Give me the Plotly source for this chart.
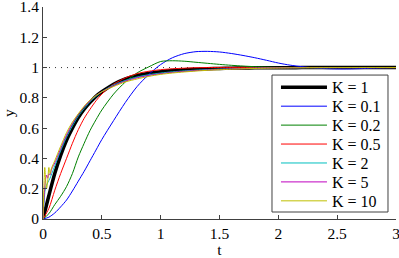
import plotly.graph_objects as go

# ---- data ----
T = [0, 0.05, 0.1, 0.15, 0.2, 0.25, 0.3, 0.35, 0.4, 0.45, 0.5, 0.6, 0.7, 0.8, 0.9,
     1.0, 1.1, 1.2, 1.3, 1.4, 1.5, 1.6, 1.7, 1.8, 1.9, 2.0, 2.1, 2.2, 2.3, 2.4,
     2.5, 2.6, 2.7, 2.8, 2.9, 3.0]

y_k1 = [0, 0.155, 0.30, 0.42, 0.52, 0.60, 0.67, 0.725, 0.77, 0.81, 0.84, 0.89, 0.925,
        0.948, 0.963, 0.973, 0.98, 0.985, 0.989, 0.992, 0.994, 0.996, 0.997, 0.998,
        0.998, 0.999, 0.999, 1, 1, 1, 1, 1, 1, 1, 1, 1]

y_k01 = [0, 0.012, 0.04, 0.08, 0.125, 0.185, 0.25, 0.315, 0.385, 0.455, 0.525, 0.65, 0.77,
         0.875, 0.955, 1.02, 1.065, 1.092, 1.105, 1.107, 1.103, 1.093, 1.08, 1.065,
         1.048, 1.03, 1.016, 1.006, 0.998, 0.993, 0.991, 0.991, 0.993, 0.996, 0.998, 1.0]

y_k02 = [0, 0.035, 0.095, 0.15, 0.214, 0.30, 0.41, 0.50, 0.585, 0.655, 0.72, 0.825,
         0.905, 0.965, 1.005, 1.04, 1.045, 1.042, 1.035, 1.028, 1.021, 1.015, 1.01,
         1.006, 1.003, 1.001, 1.0, 0.999, 0.999, 0.999, 1.0, 1.0, 1.0, 1.0, 1.0, 1.0]

y_k05 = [0, 0.07, 0.19, 0.30, 0.40, 0.50, 0.59, 0.665, 0.725, 0.78, 0.825, 0.89, 0.932,
         0.96, 0.976, 0.986, 0.992, 0.996, 0.999, 1.0, 1.001, 1.001, 1.001, 1.0, 1.0,
         1.0, 1.0, 1.0, 1.0, 1.0, 1.0, 1.0, 1.0, 1.0, 1.0, 1.0]

t_k2 = [0, 0.01, 0.02, 0.04, 0.06, 0.08, 0.1, 0.15, 0.2, 0.25, 0.3, 0.35, 0.4, 0.45,
        0.5, 0.6, 0.7, 0.8, 0.9, 1.0, 1.1, 1.2, 1.3, 1.4, 1.5, 1.6, 1.7, 1.8, 1.9,
        2.0, 2.2, 2.5, 3.0]
y_k2 = [0, 0.12, 0.2, 0.24, 0.27, 0.31, 0.35, 0.45, 0.54, 0.615, 0.68, 0.73, 0.775,
        0.81, 0.84, 0.885, 0.915, 0.938, 0.953, 0.964, 0.972, 0.978, 0.983, 0.987,
        0.99, 0.992, 0.994, 0.996, 0.997, 0.998, 0.999, 1.0, 1.0]

t_k5 = [0, 0.01, 0.02, 0.03, 0.04, 0.05, 0.06, 0.07, 0.08, 0.1, 0.15, 0.2, 0.25, 0.3,
        0.35, 0.4, 0.45, 0.5, 0.6, 0.7, 0.8, 0.9, 1.0, 1.1, 1.2, 1.3, 1.4, 1.5, 1.6,
        1.7, 1.8, 1.9, 2.0, 2.2, 2.5, 3.0]
y_k5 = [0, 0.15, 0.25, 0.29, 0.27, 0.3, 0.29, 0.32, 0.34, 0.37, 0.465, 0.555, 0.63,
        0.69, 0.74, 0.78, 0.815, 0.84, 0.88, 0.91, 0.932, 0.948, 0.959, 0.968, 0.975,
        0.98, 0.984, 0.988, 0.991, 0.993, 0.995, 0.997, 0.998, 0.999, 1.0, 1.0]

t_k10 = [0, 0.008, 0.015, 0.022, 0.03, 0.04, 0.05, 0.06, 0.07, 0.08, 0.1, 0.15, 0.2,
         0.25, 0.3, 0.35, 0.4, 0.45, 0.5, 0.6, 0.7, 0.8, 0.9, 1.0, 1.1, 1.2, 1.3, 1.4,
         1.5, 1.6, 1.7, 1.8, 1.9, 2.0, 2.2, 2.5, 3.0]
y_k10 = [0, 0.22, 0.34, 0.26, 0.2, 0.25, 0.34, 0.3, 0.33, 0.35, 0.385, 0.48, 0.57,
         0.64, 0.695, 0.745, 0.785, 0.815, 0.84, 0.875, 0.905, 0.925, 0.942, 0.955,
         0.964, 0.971, 0.977, 0.982, 0.986, 0.989, 0.992, 0.994, 0.996, 0.997, 0.999,
         1.0, 1.0]

REF = 1.0
x_ticks = [0, 0.5, 1, 1.5, 2, 2.5, 3]
x_ticklabels = ["0", "0.5", "1", "1.5", "2", "2.5", "3"]
y_ticks = [0, 0.2, 0.4, 0.6, 0.8, 1.0, 1.2, 1.4]
y_ticklabels = ["0", "0.2", "0.4", "0.6", "0.8", "1", "1.2", "1.4"]

series = [
    ("K = 1", T, y_k1, "#000000", 3.5),
    ("K = 0.1", T, y_k01, "#0000FF", 1),
    ("K = 0.2", T, y_k02, "#008000", 1),
    ("K = 0.5", T, y_k05, "#FF0000", 1),
    ("K = 2", t_k2, y_k2, "#00BFBF", 1),
    ("K = 5", t_k5, y_k5, "#BF00BF", 1),
    ("K = 10", t_k10, y_k10, "#BFBF00", 1),
]

FONT = "Liberation Serif, Times New Roman, serif"

# legend geometry (paper coordinates): framed box with one row per series
LEG_X0, LEG_X1 = 0.6487, 0.9773
LEG_Y0, LEG_Y1 = 0.033, 0.679
LEG_ITEM_X = 0.660
LEG_ROW_TOP = 0.621
LEG_ROW_STEP = 0.0893

fig = go.Figure()
layout_legends = {}
for i, (name, tx, ty, col, w) in enumerate(series):
    key = "legend" if i == 0 else f"legend{i + 1}"
    fig.add_trace(go.Scatter(x=tx, y=ty, mode="lines", name=name, legend=key,
                             line=dict(color=col, width=w, shape="spline", smoothing=0.8)))
    layout_legends[key] = dict(
        x=LEG_ITEM_X, y=LEG_ROW_TOP - i * LEG_ROW_STEP, xanchor="left", yanchor="middle",
        bgcolor="rgba(0,0,0,0)", borderwidth=0, itemwidth=46,
        font=dict(family=FONT, size=16, color="#000000"),
    )

fig.add_shape(type="line", xref="x", yref="y", x0=x_ticks[0], x1=x_ticks[-1], y0=REF, y1=REF,
              line=dict(color="#333333", width=1, dash="1px,5px"), layer="below")
fig.add_shape(type="rect", xref="paper", yref="paper",
              x0=LEG_X0, x1=LEG_X1, y0=LEG_Y0, y1=LEG_Y1,
              line=dict(color="#404040", width=1), fillcolor="white", layer="below")

fig.update_layout(
    width=399, height=258,
    margin=dict(l=43, r=3, t=7, b=39, autoexpand=False),
    paper_bgcolor="white", plot_bgcolor="white",
    font=dict(family=FONT, size=15.5, color="#000000"),
    showlegend=True,
    **layout_legends,
)
fig.update_xaxes(range=[0, 3], tickvals=x_ticks, ticktext=x_ticklabels, automargin=False,
                 showline=True, linecolor="#404040", linewidth=1, mirror=False,
                 ticks="inside", ticklen=4, tickcolor="#404040", ticklabeloverflow="allow",
                 showgrid=False, zeroline=False,
                 title=dict(text="t", standoff=3, font=dict(family=FONT, size=15.5)))
fig.update_yaxes(range=[0, 1.4], tickvals=y_ticks, ticktext=y_ticklabels, automargin=False,
                 showline=True, linecolor="#404040", linewidth=1, mirror=False,
                 ticks="inside", ticklen=4, tickcolor="#404040", ticklabeloverflow="allow",
                 showgrid=False, zeroline=False,
                 title=dict(text="y", standoff=9, font=dict(family=FONT, size=15.5)))

fig.write_html("out.html", config={"displayModeBar": False},
               post_script="document.body.style.margin='0';document.body.style.padding='0';")
